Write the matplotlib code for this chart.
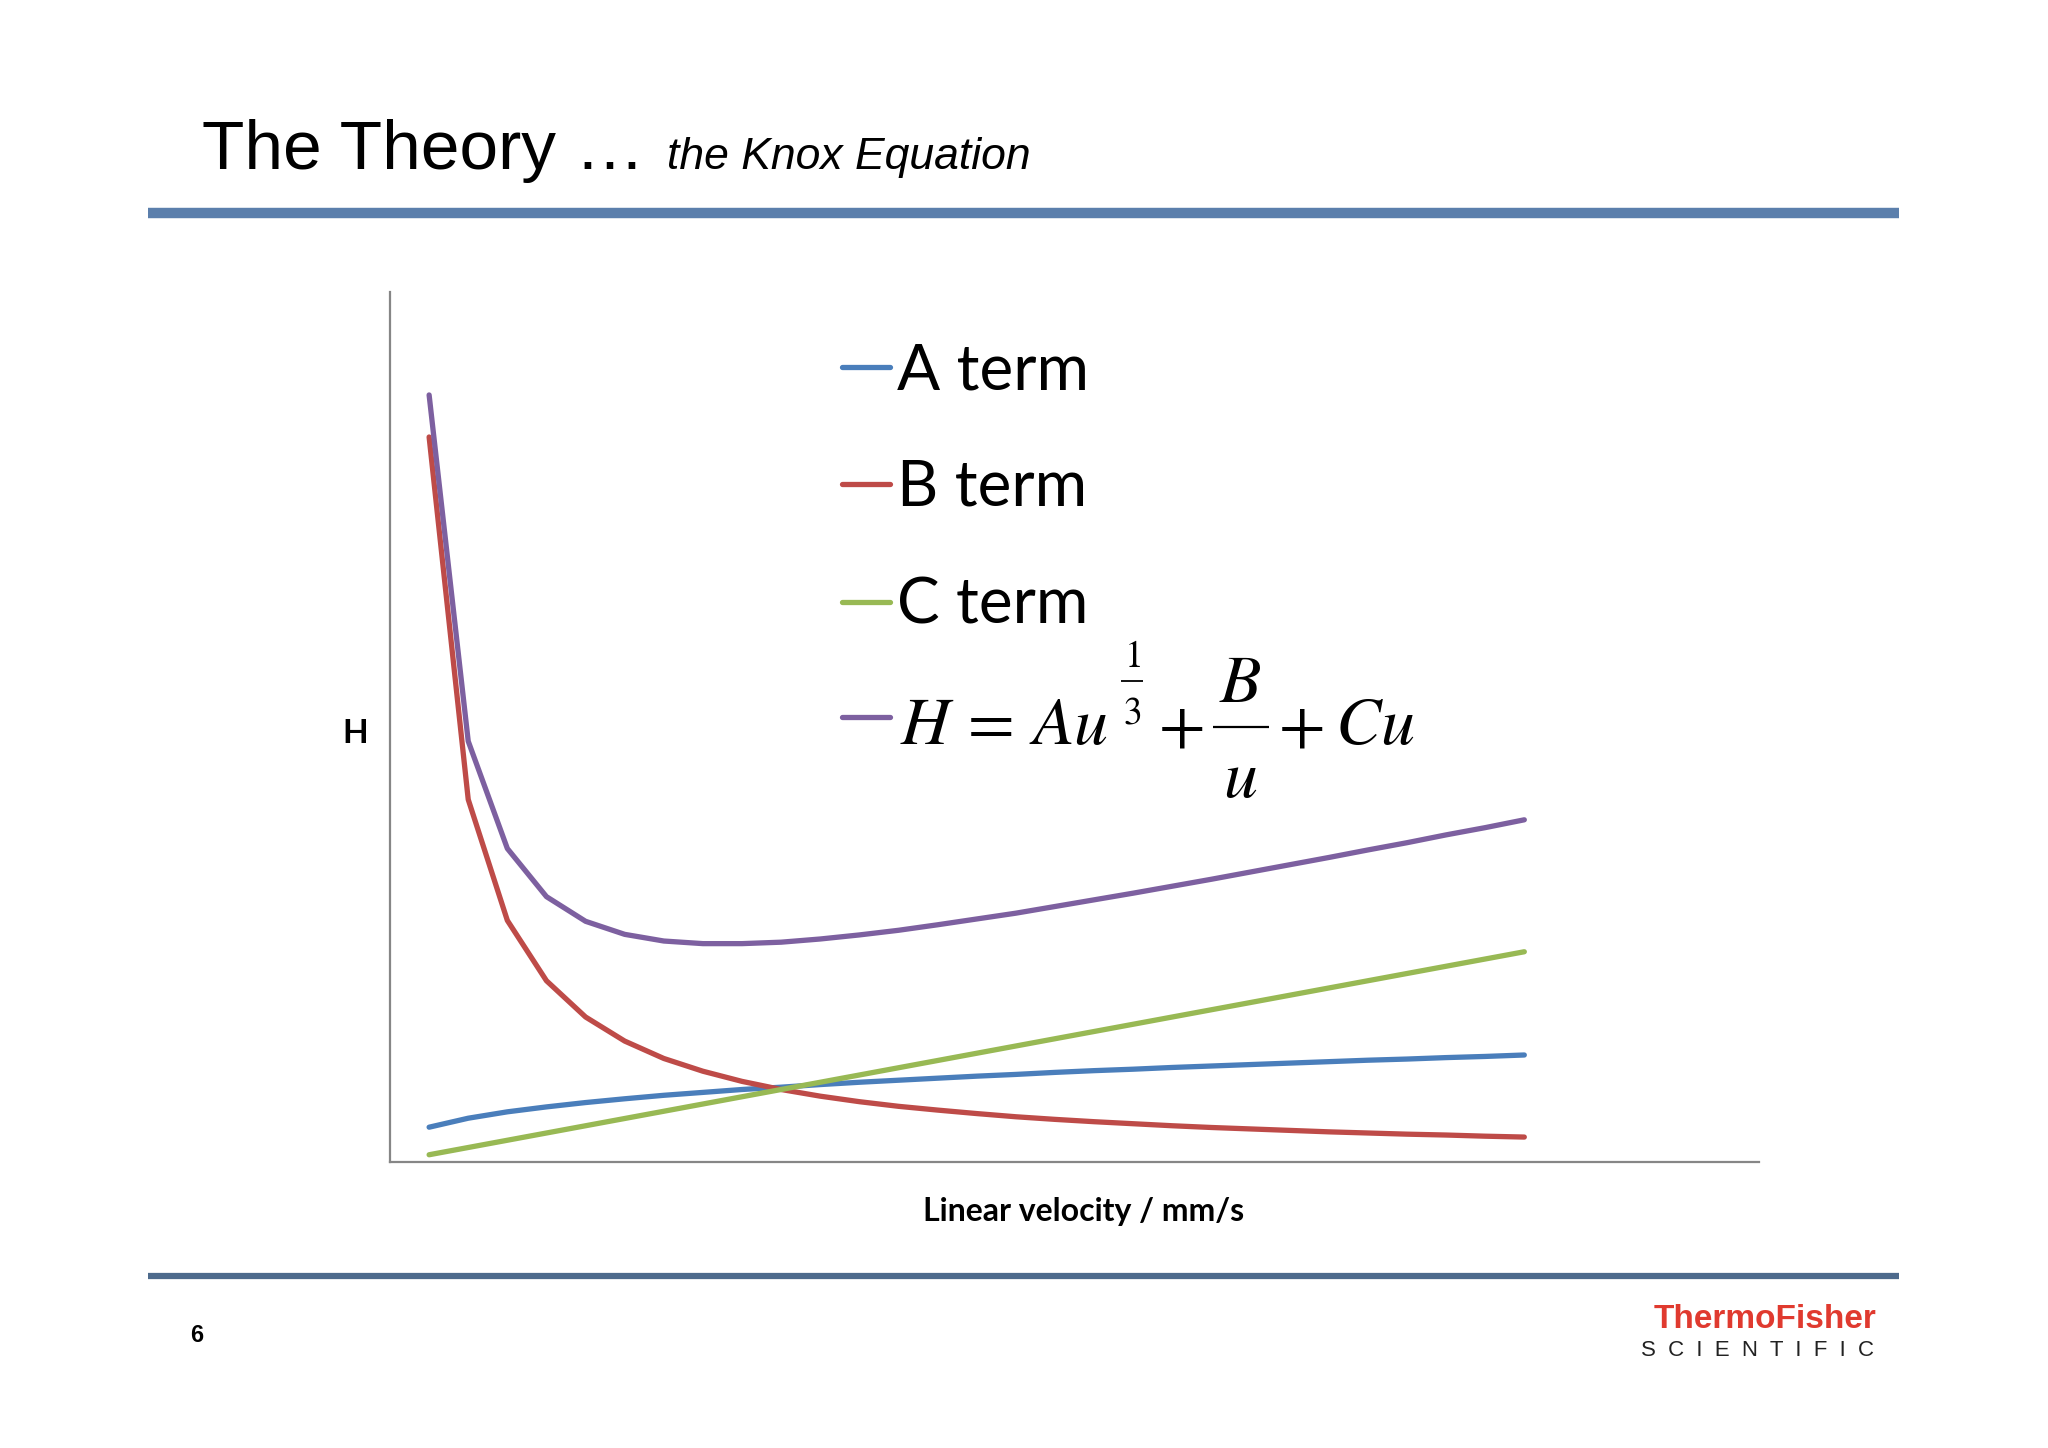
import numpy as np
import matplotlib
matplotlib.use("Agg")
import matplotlib.pyplot as plt
from matplotlib.lines import Line2D

# linear velocity points (arbitrary units) and the three Knox terms
velocity = list(range(1, 30))
a_term = [1.20, 1.51, 1.73, 1.90, 2.05, 2.18, 2.30, 2.40, 2.50, 2.58,
          2.67, 2.75, 2.82, 2.89, 2.96, 3.02, 3.09, 3.15, 3.20, 3.26,
          3.31, 3.36, 3.41, 3.46, 3.51, 3.55, 3.60, 3.64, 3.69]
b_term = [25.0, 12.5, 8.33, 6.25, 5.00, 4.17, 3.57, 3.13, 2.78, 2.50,
          2.27, 2.08, 1.92, 1.79, 1.67, 1.56, 1.47, 1.39, 1.32, 1.25,
          1.19, 1.14, 1.09, 1.04, 1.00, 0.96, 0.93, 0.89, 0.86]
c_term = [0.25, 0.50, 0.75, 1.00, 1.25, 1.50, 1.75, 2.00, 2.25, 2.50,
          2.75, 3.00, 3.25, 3.50, 3.75, 4.00, 4.25, 4.50, 4.75, 5.00,
          5.25, 5.50, 5.75, 6.00, 6.25, 6.50, 6.75, 7.00, 7.25]
h_total = [26.45, 14.51, 10.81, 9.15, 8.30, 7.85, 7.62, 7.53, 7.53, 7.58,
           7.69, 7.83, 7.99, 8.18, 8.38, 8.58, 8.81, 9.04, 9.27, 9.51,
           9.75, 10.00, 10.25, 10.50, 10.76, 11.01, 11.28, 11.53, 11.80]

labels = ["A term", "B term", "C term"]
colors = ["#4A7EBB", "#BE4B48", "#98B954", "#7D60A0"]

W, H = 2048, 1448
plt.rcParams["mathtext.fontset"] = "stix"

fig = plt.figure(figsize=(W / 100, H / 100), dpi=100)
fig.patch.set_facecolor("white")


def fx(px):
    return px / W


def fy(py):
    return 1 - py / H


def hline(x0, x1, y, col, lw, cap="butt"):
    fig.add_artist(Line2D([fx(x0), fx(x1)], [fy(y), fy(y)], color=col,
                          lw=lw, solid_capstyle=cap))


# slide header / footer
fig.text(fx(202), fy(169), "The Theory \u2026", fontsize=50,
         family="Liberation Sans", va="baseline", ha="left")
fig.text(fx(667), fy(169), "the Knox Equation", fontsize=32,
         family="Liberation Sans", style="italic", va="baseline", ha="left")
hline(148, 1899, 213, "#5B7FAC", 7.5)
hline(148, 1899, 1276, "#4D6A8C", 4.5)
fig.text(fx(190), fy(1335), "6", fontsize=17, family="Liberation Sans",
         weight="bold", va="center", ha="left")

# logo
fig.text(fx(1876), fy(1319), "ThermoFisher", fontsize=24, color="#E03A2F",
         family="Liberation Sans", weight="bold", va="center", ha="right")
fig.text(fx(1874), fy(1351), "S  C  I  E  N  T  I  F  I  C", fontsize=16,
         color="#222222", family="Liberation Sans", va="center", ha="right")

# chart
ax = fig.add_axes([fx(390), fy(1162), (1759 - 390) / W, (1162 - 292) / H])
ax.set_facecolor("none")
series = [a_term, b_term, c_term, h_total]
for vals, col in zip(series, colors):
    ax.plot(velocity, vals, color=col, lw=3.8,
            solid_capstyle="round", solid_joinstyle="round")

ax.set_xlim(0, 35)
ax.set_ylim(0, 30)
ax.set_xticks([])
ax.set_yticks([])
for side in ["top", "right"]:
    ax.spines[side].set_visible(False)
for side in ["left", "bottom"]:
    ax.spines[side].set_color("#868686")
    ax.spines[side].set_linewidth(1.6)

fig.text(fx(355), fy(734), "H", fontsize=24, family="Lato", weight="bold",
         ha="center", va="center")
fig.text(fx(1084), fy(1211), "Linear velocity / mm/s", fontsize=23,
         family="Lato", weight="bold", ha="center", va="center")

# legend drawn by hand so the rows keep an even spacing
rows = [367, 484, 602, 717]
for i, col in enumerate(colors):
    hline(842, 890, rows[i], col, 3.8, "round")
for i, lab in enumerate(labels):
    fig.text(fx(897), fy(rows[i] + 22), lab, fontsize=46, family="Lato",
             va="baseline", ha="left")

# Knox equation, set piece by piece like the slide's equation object
eq = 49
fig.text(fx(900), fy(744), r"$H\,=\,Au$", fontsize=eq, va="baseline", ha="left")
fig.text(fx(1132), fy(667), r"$1$", fontsize=27, va="baseline", ha="center")
hline(1121, 1143, 681, "black", 1.3)
fig.text(fx(1132), fy(723), r"$3$", fontsize=27, va="baseline", ha="center")
fig.text(fx(1181), fy(727), r"$+$", fontsize=eq, va="center", ha="center")
fig.text(fx(1240), fy(702), r"$B$", fontsize=eq, va="baseline", ha="center")
hline(1213, 1269, 727, "black", 1.6)
fig.text(fx(1240), fy(797), r"$u$", fontsize=eq, va="baseline", ha="center")
fig.text(fx(1301), fy(727), r"$+$", fontsize=eq, va="center", ha="center")
fig.text(fx(1335), fy(744), r"$Cu$", fontsize=eq, va="baseline", ha="left")

fig.savefig("out.png", dpi=100)
